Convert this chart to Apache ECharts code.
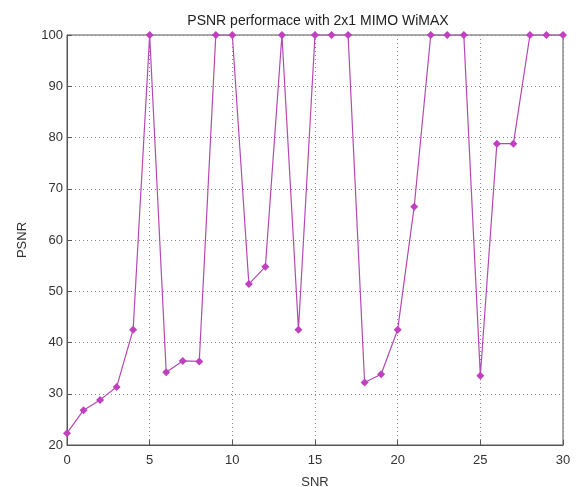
<!DOCTYPE html>
<html><head><meta charset="utf-8">
<script src="https://cdn.jsdelivr.net/npm/echarts@6/dist/echarts.min.js"></script>
<style>html,body{margin:0;padding:0;background:#fff}#c{width:576px;height:487px}</style>
</head><body><div id="c"></div>
<script>
const snr = [0,1,2,3,4,5,6,7,8,9,10,11,12,13,14,15,16,17,18,19,20,21,22,23,24,25,26,27,28,29,30];
const psnr = [22.3,26.8,28.8,31.3,42.5,100,34.2,36.4,36.3,100,100,51.4,54.8,100,42.5,100,100,100,32.2,33.8,42.5,66.5,100,100,100,33.5,78.8,78.8,100,100,100];
const xTicks = [0,5,10,15,20,25,30];
const yTicks = [20,30,40,50,60,70,80,90,100];
const titleText = 'PSNR performace with 2x1 MIMO WiMAX';

const chart = echarts.init(document.getElementById('c'));
const font = 'Liberation Sans';
chart.setOption({
  animation: false,
  title: {text: titleText, left: 313, top: 9, textAlign: 'center',
    textStyle: {fontFamily: font, fontSize: 14, fontWeight: 'normal', color: '#222'}},
  grid: {left: 67, right: 13, top: 35, bottom: 42, show: true, borderColor: '#555', borderWidth: 1,
    containLabel: false, outerBoundsMode: 'none'},
  xAxis: {type: 'value', min: 0, max: 30, interval: 5, name: 'SNR', nameLocation: 'middle', nameGap: 31,
    nameTextStyle: {fontFamily: font, fontSize: 13, color: '#333'},
    axisLine: {lineStyle: {color: '#555'}},
    axisTick: {inside: true, length: 5, lineStyle: {color: '#555'}},
    axisLabel: {fontFamily: font, fontSize: 13, color: '#333', margin: 9},
    splitLine: {show: true, lineStyle: {type: [1, 3], color: '#888'}}},
  yAxis: {type: 'value', min: 20, max: 100, interval: 10, name: 'PSNR', nameLocation: 'middle', nameGap: 38,
    nameTextStyle: {fontFamily: font, fontSize: 13, color: '#333'},
    axisLine: {lineStyle: {color: '#555'}},
    axisTick: {inside: true, length: 5, lineStyle: {color: '#555'}},
    axisLabel: {fontFamily: font, fontSize: 13, color: '#333', margin: 4},
    splitLine: {show: true, lineStyle: {type: [1, 3], color: '#888'}}},
  series: [{type: 'line', data: snr.map((x, i) => [x, psnr[i]]),
    lineStyle: {color: '#b448b4', width: 1.2},
    itemStyle: {color: '#c040c0'},
    symbol: 'diamond', symbolSize: 8, showSymbol: true}]
});
</script></body></html>
